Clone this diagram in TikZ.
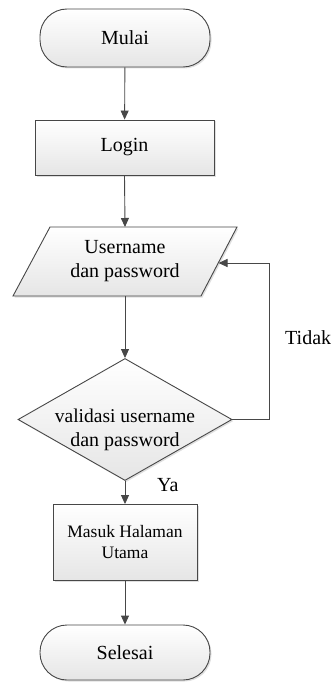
\documentclass[tikz,border=0pt]{standalone}
\usepackage{fontspec}
\setmainfont{Liberation Serif}
\usetikzlibrary{shapes.geometric,arrows.meta,shadows}
\begin{document}
\begin{tikzpicture}[x=1pt,y=-1pt,
  line/.style={draw=black!72,line width=0.9pt},
  arr/.style={line,-{Triangle[length=9pt,width=8pt]}},
  shade/.style={top color=white,bottom color=black!10,
    drop shadow={shadow xshift=1.5pt,shadow yshift=-1.5pt,opacity=0.25,fill=black!50}},
  term/.style={line,shade,rounded corners=27pt,minimum width=170pt,minimum height=58pt,inner sep=0pt,font=\fontsize{20}{24}\selectfont},
  proc/.style={line,shade,rectangle,inner sep=0pt,align=center},
  txt/.style={font=\fontsize{20}{24}\selectfont,align=center,inner sep=0pt},
]
\useasboundingbox (0,0) rectangle (334,682);

\node[term] (mulai) at (125,38) {Mulai};
\node[proc,minimum width=179pt,minimum height=55pt,font=\fontsize{20}{24}\selectfont] (login) at (124.5,147.5) {Login};

% parallelogram
\path[line,shade] (50,227) -- (237,227) -- (201,296) -- (13,296) -- cycle;
\node[txt,minimum width=150pt,minimum height=69pt] (inp) at (125,261.5) {\fontsize{20}{25}\selectfont Username\\dan password};
\coordinate (inpR) at (218.5,263);

% decision
\node[diamond,line,shade,minimum width=214pt,minimum height=122pt,inner sep=0pt] (dec) at (125,419.5) {};
\node[txt] (dectxt) at (125,430) {\fontsize{19.5}{22}\selectfont validasi username\\dan password};

\node[proc,minimum width=144pt,minimum height=76pt,font=\fontsize{17.5}{21}\selectfont] (masuk) at (125,542.5) {Masuk Halaman\\Utama};
\node[term,minimum height=55pt] (selesai) at (125,652.5) {Selesai};

\node[txt,anchor=west] (tidak) at (285,338) {Tidak};
\node[txt,anchor=west] (ya) at (157,485) {Ya};

\draw[arr] (mulai) -- (login);
\draw[arr] (login.south) -- (125,227);
\draw[arr] (125,296) -- (dec.north);
\draw[arr] (dec.east) -- (269,419.5) -- (269,263) -- (inpR);
\draw[arr] (dec.south) -- (masuk.north);
\draw[arr] (masuk) -- (selesai);
\end{tikzpicture}
\end{document}
